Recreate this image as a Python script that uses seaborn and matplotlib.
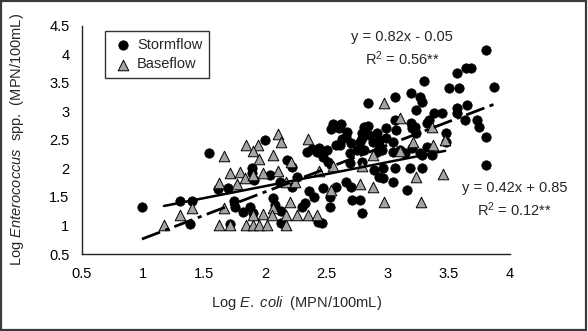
import matplotlib
matplotlib.use("Agg")
import matplotlib.pyplot as plt
from matplotlib.patches import Rectangle
from matplotlib.ticker import FormatStrFormatter
import seaborn as sns
import pandas as pd
import numpy as np

# ---------------- data ----------------
storm_x = [0.99, 1.30, 1.40, 1.38, 1.54, 1.61, 1.69, 1.74, 1.75, 1.71, 1.82, 1.90, 1.89, 1.91, 1.89,
           2.00, 2.04, 2.06, 2.08, 2.13, 2.13, 2.12, 2.18, 2.22, 2.26, 2.22, 2.30, 2.32, 2.36, 2.40,
           2.43, 2.46, 2.38, 2.42, 2.47, 2.51, 2.47, 2.53, 2.53, 2.58, 2.58, 2.55, 2.62, 2.54, 2.67,
           2.63, 2.70, 2.61, 2.77, 2.79, 2.84, 2.85, 2.91, 2.88, 2.93, 2.99, 3.07, 2.99, 3.04, 2.75,
           2.81, 2.91, 2.95, 3.04, 3.10, 3.20, 3.23, 3.20, 3.32, 3.32, 3.36, 3.48, 3.48, 2.69, 2.69,
           2.79, 2.89, 2.93, 2.96, 3.06, 3.18, 3.28, 3.04, 3.16, 2.66, 2.70, 2.71, 2.77, 2.79, 2.84,
           3.06, 3.19, 3.26, 3.28, 3.30, 3.23, 3.38, 3.44, 3.80, 3.87, 3.64, 3.68, 3.57, 3.50, 3.58,
           3.57, 3.65, 3.57, 3.63, 3.73, 3.75, 3.80, 3.34, 3.22, 3.06, 2.93, 3.14, 3.28, 3.80, 2.96,
           1.87, 2.44, 2.81, 3.19, 2.79, 3.26, 2.60, 2.66, 2.34, 2.50]
storm_y = [1.32, 1.43, 1.43, 1.03, 2.27, 1.64, 1.66, 1.43, 1.32, 1.03, 1.24, 1.22, 2.01, 1.80, 1.92,
           2.50, 1.88, 1.48, 1.36, 1.25, 1.04, 1.76, 2.15, 2.02, 1.85, 1.67, 1.32, 1.39, 1.60, 1.50,
           1.06, 1.04, 2.34, 2.29, 2.20, 2.11, 1.66, 1.50, 1.32, 1.67, 2.41, 2.78, 2.78, 2.69, 2.64,
           2.51, 2.44, 2.41, 2.46, 2.62, 2.74, 2.58, 2.62, 2.46, 2.41, 2.71, 2.67, 2.53, 2.46, 2.32,
           2.32, 2.29, 2.32, 2.29, 2.32, 2.71, 2.62, 2.36, 2.79, 2.37, 2.23, 2.62, 2.46, 2.27, 2.09,
           2.11, 1.97, 1.85, 2.01, 2.01, 2.01, 2.01, 1.76, 1.62, 1.76, 1.67, 1.45, 1.45, 1.22, 3.14,
           3.25, 3.32, 3.25, 3.16, 3.53, 3.02, 2.97, 2.97, 4.07, 3.42, 3.76, 3.76, 3.67, 3.41, 3.41,
           3.06, 3.11, 2.97, 2.85, 2.85, 2.72, 2.55, 2.85, 2.72, 2.85, 2.50, 2.27, 2.23, 2.06, 1.83,
           1.32, 2.36, 2.72, 2.79, 2.53, 2.27, 2.70, 2.55, 2.28, 2.32]

base_x = [1.66, 1.84, 1.94, 1.90, 2.10, 2.13, 2.06, 1.95, 2.35, 1.62, 1.71, 1.79, 1.83, 1.90, 1.98,
          2.10, 2.21, 1.77, 2.17, 2.24, 2.44, 2.54, 1.40, 1.30, 1.17, 1.66, 1.62, 1.71, 1.84, 1.90,
          1.95, 2.01, 2.17, 2.06, 1.98, 1.90, 2.20, 2.26, 2.35, 2.42, 2.17, 2.05, 2.55, 2.79, 2.77,
          2.88, 2.97, 3.27, 3.23, 3.45, 2.97, 3.10, 3.36, 3.47, 3.21, 3.37, 3.10, 2.88]
base_y = [2.22, 2.41, 2.41, 2.30, 2.60, 2.46, 2.23, 2.16, 2.51, 1.74, 1.92, 1.94, 1.83, 1.88, 1.92,
          1.95, 2.11, 1.73, 1.76, 1.76, 1.95, 1.62, 1.31, 1.18, 1.00, 1.31, 1.00, 1.00, 1.00, 1.00,
          1.00, 1.00, 1.00, 1.31, 1.20, 1.18, 1.41, 1.18, 1.18, 1.18, 1.18, 1.18, 2.04, 2.04, 1.73,
          1.67, 1.41, 1.41, 1.85, 1.90, 3.14, 2.88, 2.72, 2.50, 2.46, 2.41, 2.30, 2.23]

storm_fit = (0.82, -0.05)   # slope, intercept
base_fit = (0.42, 0.85)
storm_eq = ["y = 0.82x - 0.05", "R$^2$ = 0.56**"]
base_eq = ["y = 0.42x + 0.85", "R$^2$ = 0.12**"]

x_ticks = [0.5, 1, 1.5, 2, 2.5, 3, 3.5, 4]
y_ticks = [0.5, 1, 1.5, 2, 2.5, 3, 3.5, 4, 4.5]

# ---------------- style ----------------
sns.set_theme(style="white")
plt.rcParams["font.family"] = ["Liberation Sans", "DejaVu Sans"]
plt.rcParams["mathtext.fontset"] = "custom"
plt.rcParams["mathtext.rm"] = "Liberation Sans"
plt.rcParams["mathtext.it"] = "Liberation Sans:italic"
FS = 10.5

fig = plt.figure(figsize=(5.88, 3.31), dpi=100)
ax = fig.add_axes([82 / 588, 1 - 254 / 331, (510 - 82) / 588, (254 - 25.7) / 331])

storm = pd.DataFrame({"x": storm_x, "y": storm_y})
base = pd.DataFrame({"x": base_x, "y": base_y})

sns.scatterplot(data=storm, x="x", y="y", ax=ax, marker="o", color="black",
                edgecolor="black", s=46, linewidth=0.5, label="Stormflow", zorder=3)
sns.scatterplot(data=base, x="x", y="y", ax=ax, marker="^", color="#a3a3a3",
                edgecolor="black", s=58, linewidth=0.7, label="Baseflow", zorder=4)

# trend lines
sx = np.array([min(storm_x), max(storm_x)])
bx = np.array([min(base_x), max(base_x)])
ax.plot(sx, storm_fit[0] * sx + storm_fit[1], color="black", lw=2.0,
        dashes=(7, 2, 1.5, 2), zorder=5)
ax.plot(bx, base_fit[0] * bx + base_fit[1], color="black", lw=1.8, zorder=5)

ax.set_xlim(0.5, 4)
ax.set_ylim(0.5, 4.5)
ax.set_xticks(x_ticks)
ax.set_yticks(y_ticks)
ax.xaxis.set_major_formatter(FormatStrFormatter("%g"))
ax.yaxis.set_major_formatter(FormatStrFormatter("%g"))
ax.tick_params(direction="in", length=4, width=1, color="#222222",
               labelsize=FS, labelcolor="black")
ax.tick_params(axis="x", pad=9)
ax.tick_params(axis="y", pad=9)
for s in ["top", "right"]:
    ax.spines[s].set_visible(False)
for s in ["left", "bottom"]:
    ax.spines[s].set_color("#222222")
    ax.spines[s].set_linewidth(1.0)
ax.grid(False)

ax.set_xlabel(r"Log $\it{E.\ coli}$  (MPN/100mL)", fontsize=FS, labelpad=10)
ax.set_ylabel(r"Log $\it{Enterococcus}$  spp.  (MPN/100mL)", fontsize=FS, labelpad=17)

# equations
ax.text(3.12, 4.30, storm_eq[0], fontsize=FS, ha="center", va="center", clip_on=False)
ax.text(3.12, 3.93, storm_eq[1], fontsize=FS, ha="center", va="center", clip_on=False)
ax.text(4.04, 1.66, base_eq[0], fontsize=FS, ha="center", va="center", clip_on=False)
ax.text(4.04, 1.27, base_eq[1], fontsize=FS, ha="center", va="center", clip_on=False)

leg = ax.legend(loc="upper left", bbox_to_anchor=(0.054, 0.977), borderaxespad=0,
                fontsize=FS, frameon=True, fancybox=False, edgecolor="black",
                handletextpad=0.15, handlelength=1.6, labelspacing=0.4,
                borderpad=0.45)
leg.get_frame().set_linewidth(1.0)

fig.patches.append(Rectangle((0.002, 0.003), 0.995, 0.993, transform=fig.transFigure,
                             fill=False, edgecolor="#3a3a3a", linewidth=1.6))

fig.savefig("out.png", dpi=100)
